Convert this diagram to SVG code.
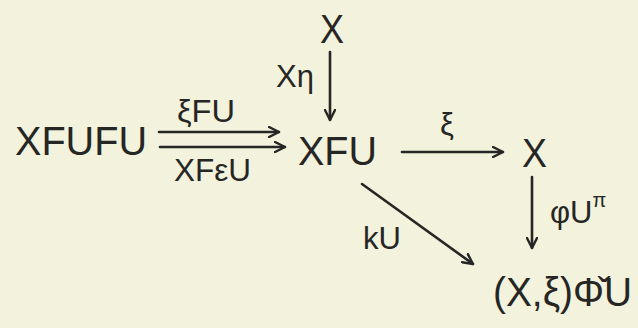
<svg xmlns="http://www.w3.org/2000/svg" width="638" height="328" viewBox="0 0 638 328">
<style>
text{font-family:"Liberation Sans","DejaVu Sans",sans-serif;fill:#262624}
.n{font-size:40px}
.l{font-size:31px}
.c{stroke:#262624;stroke-width:2.6;fill:none;stroke-linecap:round}
</style>
<defs>
<marker id="ah" viewBox="0 0 12 12" refX="11" refY="6" markerWidth="12" markerHeight="12" markerUnits="userSpaceOnUse" orient="auto">
<path d="M1,1 L11,6 L1,11" fill="none" stroke="#262624" stroke-width="2.4" stroke-linecap="round" stroke-linejoin="round"/>
</marker>
</defs>
<rect width="638" height="328" fill="#f3f3dd"/>
<g id="n_XFUFU"><text class="n" x="15" y="155" textLength="132" lengthAdjust="spacingAndGlyphs">XFUFU</text></g>
<g id="n_Xtop"><text class="n" x="320" y="43" textLength="24" lengthAdjust="spacingAndGlyphs">X</text></g>
<g id="n_XFU"><text class="n" x="298" y="165" textLength="79" lengthAdjust="spacingAndGlyphs">XFU</text></g>
<g id="n_Xright"><text class="n" x="522" y="167" textLength="25" lengthAdjust="spacingAndGlyphs">X</text></g>
<g id="n_XxiPhiU"><text class="n" x="493" y="306" textLength="139" lengthAdjust="spacingAndGlyphs">(X,ξ)Φ̌U</text></g>
<g id="connectors">
<line class="c" x1="159" y1="132" x2="279" y2="132" marker-end="url(#ah)"/>
<line class="c" x1="160" y1="147" x2="285" y2="147" marker-end="url(#ah)"/>
<line class="c" x1="330" y1="52" x2="330" y2="120" marker-end="url(#ah)"/>
<line class="c" x1="402" y1="152" x2="503" y2="152" marker-end="url(#ah)"/>
<line class="c" x1="532" y1="177" x2="532" y2="248" marker-end="url(#ah)"/>
<line class="c" x1="362" y1="184" x2="473" y2="264" marker-end="url(#ah)"/>
<text class="l" x="177" y="122" textLength="58" lengthAdjust="spacingAndGlyphs">ξFU</text>
<text class="l" x="174" y="181" textLength="77" lengthAdjust="spacingAndGlyphs">XFεU</text>
<text class="l" x="276" y="87" font-size="28">Xη</text>
<text class="l" x="440" y="135">ξ</text>
<text class="l" x="550" y="223">φU<tspan font-size="20" dy="-16">π</tspan></text>
<text class="l" x="363" y="249" font-size="32">kU</text>
</g>
</svg>
